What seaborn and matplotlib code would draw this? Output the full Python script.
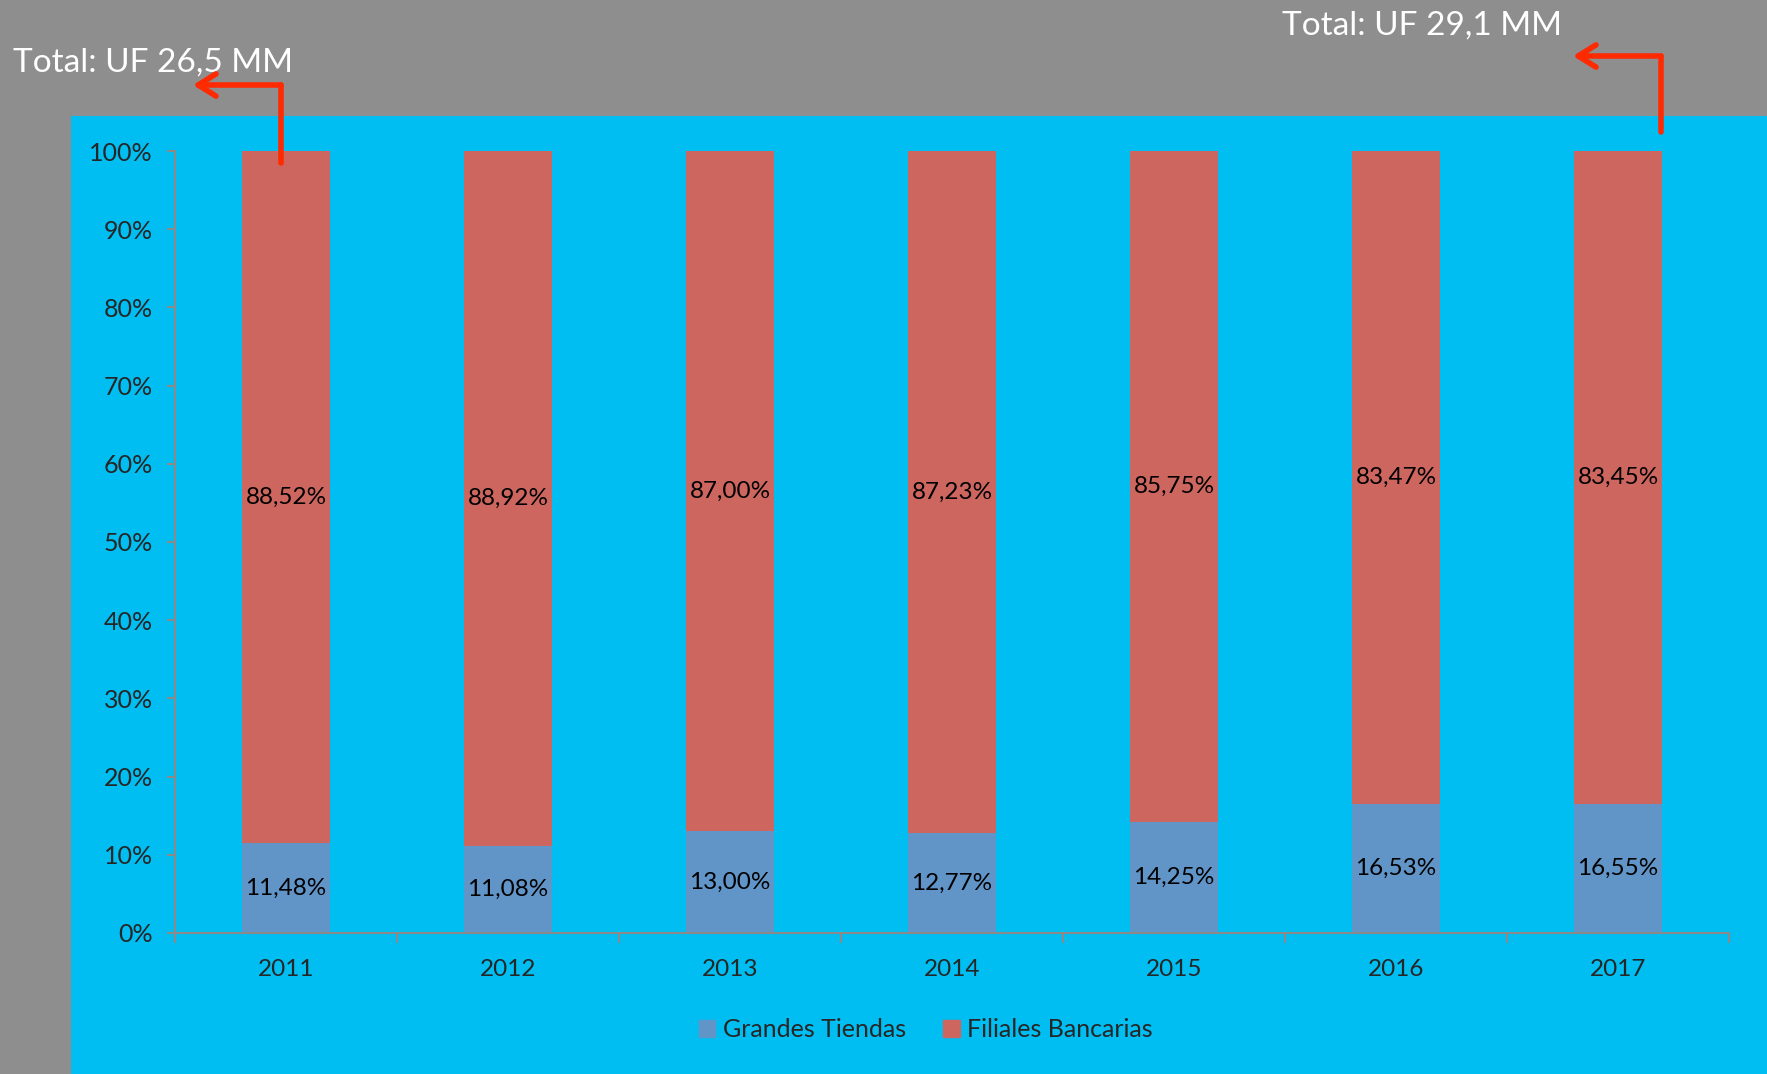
import matplotlib
matplotlib.use("Agg")
import matplotlib.pyplot as plt
import matplotlib.patches as mpatches
import pandas as pd
import seaborn as sns

# Data
years = ["2011", "2012", "2013", "2014", "2015", "2016", "2017"]
grandes_tiendas = [11.48, 11.08, 13.00, 12.77, 14.25, 16.53, 16.55]
filiales_bancarias = [88.52, 88.92, 87.00, 87.23, 85.75, 83.47, 83.45]
series_names = ["Grandes Tiendas", "Filiales Bancarias"]
total_labels = ["Total: UF 26,5 MM", "Total: UF 29,1 MM"]

gray_bg = "#8e8e8e"
cyan_bg = "#00bef2"
blue = "#6195c8"
red = "#cd665f"
arrow_red = "#ff2a00"
axis_gray = "#8a8a8a"

sns.set_style("white")
plt.rcParams["font.family"] = ["Lato", "DejaVu Sans"]

df = pd.DataFrame({"year": years, "grandes": grandes_tiendas, "filiales": filiales_bancarias})
df["total"] = df["grandes"] + df["filiales"]

fig = plt.figure(figsize=(17.67, 10.74), dpi=100)
fig.patch.set_facecolor(gray_bg)
fig.patches.append(mpatches.Rectangle((0.0402, 0), 1 - 0.0402, 0.892, transform=fig.transFigure,
                                      facecolor=cyan_bg, edgecolor="none", zorder=-5))

ax = fig.add_axes([0.0990, 0.1313, 0.8795, 0.7281])
ax.set_facecolor("none")
ax.set_zorder(1)

# stacked bars: full height in red, grandes tiendas overlaid in blue
sns.barplot(data=df, x="year", y="total", color=red, width=0.4, saturation=1, linewidth=0, ax=ax)
sns.barplot(data=df, x="year", y="grandes", color=blue, width=0.4, saturation=1, linewidth=0, ax=ax)

for i, row in df.iterrows():
    ax.text(i, row["grandes"] / 2, f"{row['grandes']:.2f}%".replace(".", ","),
            ha="center", va="center", fontsize=17.5, color="black")
    ax.text(i, row["grandes"] + row["filiales"] / 2, f"{row['filiales']:.2f}%".replace(".", ","),
            ha="center", va="center", fontsize=17.5, color="black")

ax.set_xlim(-0.5, len(years) - 0.5)
ax.set_ylim(0, 100)
ax.set_yticks(range(0, 101, 10))
ax.set_yticklabels([f"{v}%" for v in range(0, 101, 10)], fontsize=18)
ax.set_xticks(range(len(years)))
ax.set_xticklabels(years, fontsize=17.5)
ax.set_xlabel("")
ax.set_ylabel("")
ax.set_xticks([i + 0.5 for i in range(-1, len(years))], minor=True)

for side in ["top", "right"]:
    ax.spines[side].set_visible(False)
for side in ["left", "bottom"]:
    ax.spines[side].set_color(axis_gray)
    ax.spines[side].set_linewidth(1.5)
ax.tick_params(axis="y", which="major", direction="out", length=6, width=1.5, color=axis_gray, left=True, pad=10)
ax.tick_params(axis="x", which="major", length=0, pad=19)
ax.tick_params(axis="x", which="minor", direction="out", length=7, width=1.5, color=axis_gray, bottom=True)

handles = [mpatches.Patch(color=blue, label=series_names[0]),
           mpatches.Patch(color=red, label=series_names[1])]
fig.legend(handles=handles, loc="center", bbox_to_anchor=(0.524, 0.041), ncol=2, frameon=False,
           fontsize=18, handlelength=0.65, handleheight=0.65, handletextpad=0.3, columnspacing=1.5)

# totals and arrows
fig.text(13 / 1767, 1 - 72 / 1074, total_labels[0], fontsize=24, color="white", ha="left", va="baseline")
fig.text(1282 / 1767, 1 - 35 / 1074, total_labels[1], fontsize=24, color="white", ha="left", va="baseline")


def bent_arrow(x0, y0, y1, x2):
    fig.lines.append(plt.Line2D([x0 / 1767, x0 / 1767], [1 - y0 / 1074, 1 - y1 / 1074], transform=fig.transFigure,
                                color=arrow_red, linewidth=4, solid_capstyle="round", zorder=5))
    fig.patches.append(mpatches.FancyArrowPatch((x0 / 1767, 1 - y1 / 1074), (x2 / 1767, 1 - y1 / 1074),
                                                transform=fig.transFigure, arrowstyle="->,head_length=8,head_width=5",
                                                color=arrow_red, linewidth=4, zorder=5,
                                                shrinkA=0, shrinkB=0, mutation_scale=1.6))


bent_arrow(281, 163, 85, 193)
bent_arrow(1661, 132, 56, 1573)

fig.savefig("out.png", dpi=100, facecolor=fig.get_facecolor())
